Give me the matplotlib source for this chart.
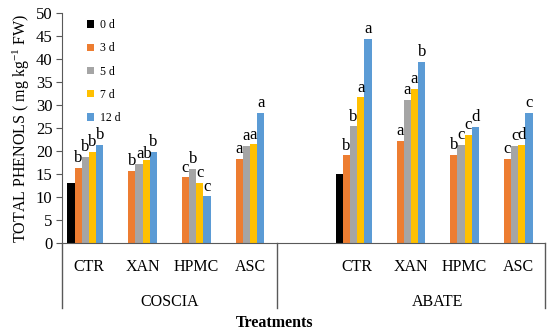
import numpy as np
import matplotlib
matplotlib.use("Agg")
import matplotlib.pyplot as plt

plt.rcParams['font.family'] = ['Liberation Serif', 'DejaVu Serif']
plt.rcParams['mathtext.default'] = 'regular'

# categories (blank slot separates the two cultivars)
categories = ['CTR', 'XAN', 'HPMC', 'ASC', '', 'CTR', 'XAN', 'HPMC', 'ASC']
groups = ['COSCIA', 'ABATE']
days = ['0 d', '3 d', '5 d', '7 d', '12 d']
colors = ['#000000', '#ED7D31', '#A5A5A5', '#FFC000', '#5B9BD5']

nan = np.nan
d0 = [13.0, nan, nan, nan, nan, 15.0, nan, nan, nan]
d3 = [16.4, 15.7, 14.3, 18.3, nan, 19.1, 22.2, 19.2, 18.3]
d5 = [18.7, 17.3, 16.1, 21.2, nan, 25.4, 31.2, 21.3, 21.1]
d7 = [19.9, 18.1, 13.1, 21.5, nan, 31.7, 33.5, 23.6, 21.4]
d12 = [21.4, 19.9, 10.2, 28.3, nan, 44.4, 39.4, 25.3, 28.3]
values = [d0, d3, d5, d7, d12]

l0 = ['', '', '', '', '', '', '', '', '']
l3 = ['b', 'b', 'c', 'a', '', 'b', 'a', 'b', 'c']
l5 = ['b', 'ab', 'b', 'a', '', 'b', 'a', 'c', 'c']
l7 = ['b', '', 'c', 'a', '', 'a', 'a', 'c', 'd']
l12 = ['b', 'b', 'c', 'a', '', 'a', 'b', 'd', 'c']
letters = [l0, l3, l5, l7, l12]

fig = plt.figure(figsize=(5.5, 3.31), dpi=100)
ax = fig.add_axes([0.113, 0.265, 0.878, 0.695])

x = np.arange(len(categories))
w = 0.134
for i, (vals, col, lab, lets) in enumerate(zip(values, colors, days, letters)):
    pos = x + (i - 2.5) * w
    ax.bar(pos, vals, width=w, color=col, label=lab, linewidth=0)
    for p, v, t in zip(pos, vals, lets):
        if t and not np.isnan(v):
            # two-letter label sits over gray/yellow
            dx = 0.7 * w if len(t) > 1 else 0
            ax.text(p + dx, v + 0.4, t, ha='center', va='bottom', fontsize=12)

ax.set_xlim(-0.5, len(categories) - 0.5)
ax.set_ylim(0, 50)
ax.set_yticks(np.arange(0, 51, 5))
ax.tick_params(axis='y', labelsize=12, length=4, color='#595959', pad=3)
ax.set_xticks([])
for s in ['top', 'right']:
    ax.spines[s].set_visible(False)
ax.spines['left'].set_color('#595959')
ax.spines['bottom'].set_color('#595959')

trans = ax.get_xaxis_transform()
for xi, c in zip(x, categories):
    ax.text(xi, -0.103, c, transform=trans, ha='center', va='center', fontsize=11.5)
ax.text(1.5, -0.255, groups[0], transform=trans, ha='center', va='center', fontsize=11.5)
ax.text(6.5, -0.255, groups[1], transform=trans, ha='center', va='center', fontsize=11.5)
for xv in [-0.5, 3.5, 8.5]:
    ax.plot([xv, xv], [0, -0.281], transform=trans, color='#595959', lw=1, clip_on=False)

ax.set_ylabel('TOTAL PHENOLS ( mg kg$^{-1}$ FW)', fontsize=11.5, labelpad=3)
fig.text(0.5, 0.025, 'Treatments', ha='center', va='center', fontsize=11.5, fontweight='bold')

ax.legend(loc='upper left', bbox_to_anchor=(0.03, 1.02), frameon=False, fontsize=8.5,
          handlelength=0.6, handleheight=0.6, handletextpad=0.5, labelspacing=0.95)

fig.savefig('out.png', dpi=100)
